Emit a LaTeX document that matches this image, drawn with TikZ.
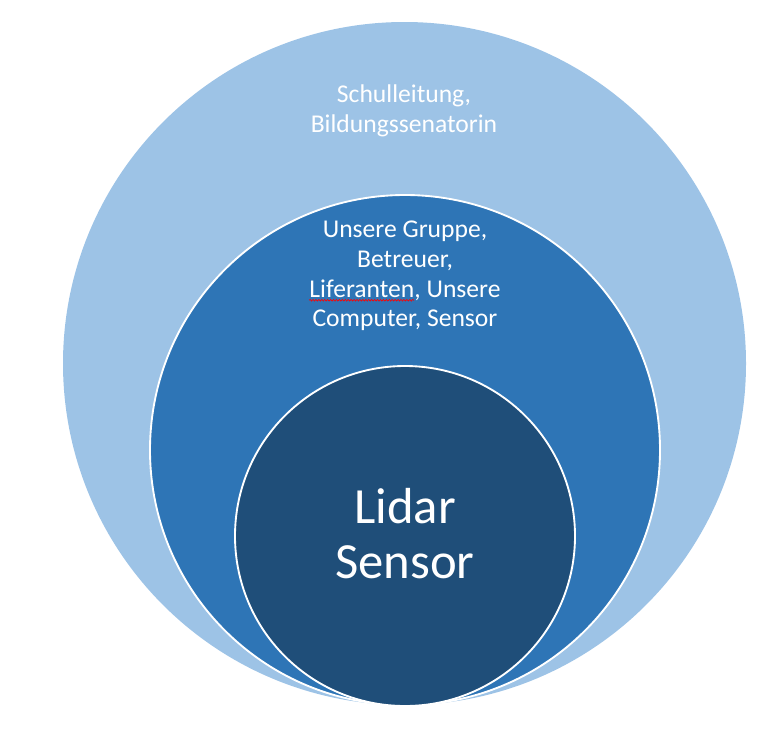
\documentclass[tikz,border=0pt]{standalone}
\usepackage{fontspec}
\setmainfont{Carlito}
\usetikzlibrary{decorations.pathmorphing}
\definecolor{outerfill}{HTML}{9DC3E6}
\definecolor{midfill}{HTML}{2E75B6}
\definecolor{innerfill}{HTML}{1F4E79}
\newsavebox\wordbox
\newcommand\spellmark[1]{\sbox\wordbox{#1}\usebox\wordbox\llap{\tikz[baseline=0pt]\draw[red, line width=0.5pt, decorate, decoration={snake, amplitude=0.6pt, segment length=2.2pt}] (0pt,-2.4pt) -- (\wd\wordbox,-2.4pt);}}
\tikzset{
  ring/.style    = {circle, inner sep=0pt, draw=white, line width=1.4pt},
  ringtxt/.style = {text=white, align=center, font=\fontsize{19.2}{22.2}\selectfont},
  coretxt/.style = {text=white, align=center, font=\fontsize{38}{41.2}\selectfont},
}
\begin{document}
\begin{tikzpicture}[x=0.75pt, y=-0.75pt]
	\useasboundingbox (0,0) rectangle (774,732);
	\node[ring, fill=outerfill, draw=none, minimum size=512.25pt] (outer) at (404.5,363.5) {};
	\node[ring, fill=midfill, minimum size=382.5pt] (mid) at (405,450) {};
	\node[ring, fill=innerfill, minimum size=255pt] (core) at (405,536) {};
	\node[ringtxt] (outertxt) at (404,111) {Schulleitung,\\Bildungssenatorin};
	\node[ringtxt] (midtxt) at (405,276) {Unsere Gruppe,\\Betreuer,\\\spellmark{Liferanten}, Unsere\\Computer, Sensor};
	\node[coretxt] (coretxt) at (405,534) {Lidar\\Sensor};
\end{tikzpicture}
\end{document}
